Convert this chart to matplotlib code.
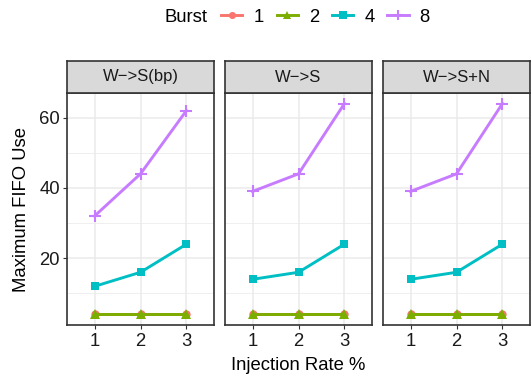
import numpy as np
import matplotlib.pyplot as plt
from matplotlib.lines import Line2D

plt.rcParams['font.family'] = ['Liberation Sans', 'DejaVu Sans']

# data
rates = [1, 2, 3]
panels = ["W\u2212>S(bp)", "W\u2212>S", "W\u2212>S+N"]
bursts = ["1", "2", "4", "8"]
burst1 = [[4, 4, 4], [4, 4, 4], [4, 4, 4]]
burst2 = [[4, 4, 4], [4, 4, 4], [4, 4, 4]]
burst4 = [[12, 16, 24], [14, 16, 24], [14, 16, 24]]
burst8 = [[32, 44, 62], [39, 44, 64], [39, 44, 64]]

colors = ["#F8766D", "#7CAE00", "#00BFC4", "#C77CFF"]
markers = ["o", "^", "s", "+"]
msizes = [6, 7, 6, 9]

W, H = 531, 375
fig = plt.figure(figsize=(W / 100, H / 100), dpi=100)

lefts = [67, 225, 383]
pw = 147
top, bot = 93, 325
strip_top = 61

series = [burst1, burst2, burst4, burst8]
fs = 13.3

for i, (name, left) in enumerate(zip(panels, lefts)):
    ax = fig.add_axes([left / W, 1 - bot / H, pw / W, (bot - top) / H])
    for j, data in enumerate(series):
        ax.plot(rates, data[i], color=colors[j], lw=2.1, marker=markers[j],
                ms=msizes[j], mew=1.5 if markers[j] == "+" else 0, zorder=3 + j)
    ax.set_xlim(0.4, 3.6)
    ax.set_ylim(1, 67)
    ax.set_xticks(rates)
    ax.set_yticks([20, 40, 60])
    ax.set_yticks([10, 30, 50], minor=True)
    ax.grid(True, which='major', color='#EBEBEB', lw=1.1, zorder=0)
    ax.grid(True, which='minor', axis='y', color='#EBEBEB', lw=0.55, zorder=0)
    ax.set_axisbelow(True)
    for s in ax.spines.values():
        s.set_color('#333333')
        s.set_linewidth(1.2)
    ax.tick_params(axis='both', which='major', length=3, width=0.8, color='#333333',
                   labelsize=fs, labelcolor='#1A1A1A', pad=2)
    ax.tick_params(axis='x', pad=3)
    ax.tick_params(axis='y', which='minor', length=0)
    if i > 0:
        ax.tick_params(axis='y', labelleft=False, length=0)
    else:
        ax.set_ylabel("Maximum FIFO Use", fontsize=fs, labelpad=7)
    if i == 1:
        ax.set_xlabel("Injection Rate %", fontsize=fs, labelpad=4.5)

    # strip
    sax = fig.add_axes([left / W, 1 - top / H, pw / W, (top - strip_top) / H])
    sax.set_xticks([])
    sax.set_yticks([])
    sax.set_facecolor('#D9D9D9')
    for s in sax.spines.values():
        s.set_color('#333333')
        s.set_linewidth(1.2)
    sax.text(0.5, 0.5, name, ha='center', va='center', fontsize=12,
             color='#1A1A1A', transform=sax.transAxes)

# legend
fig.text(165 / W, 1 - 17 / H, "Burst", fontsize=fs, va='center', ha='left')
handles = [Line2D([], [], color=c, lw=2.1, marker=m, ms=s * 0.85,
                  mew=1.5 if m == "+" else 0)
           for c, m, s in zip(colors, markers, msizes)]
fig.legend(handles, bursts, loc='center left', bbox_to_anchor=(221 / W, 1 - 17 / H),
           ncol=4, frameon=False, fontsize=fs, handlelength=1.15,
           handletextpad=0.6, columnspacing=0.7, borderpad=0, borderaxespad=0)

fig.savefig("out.png", dpi=100)
